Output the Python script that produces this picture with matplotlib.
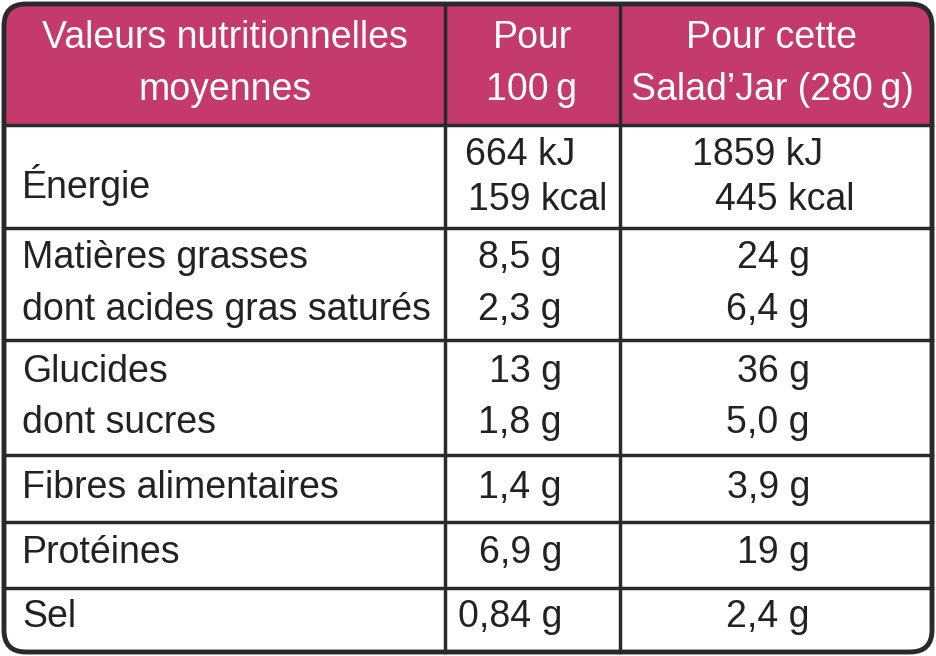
import matplotlib
matplotlib.use("Agg")
import matplotlib.pyplot as plt
from matplotlib.patches import FancyBboxPatch, Rectangle

header = [["Valeurs nutritionnelles", "moyennes"], ["Pour", "100\u2009g"], ["Pour cette", "Salad’Jar (280\u2009g)"]]
labels = [["Énergie"], ["Matières grasses", "dont acides gras saturés"], ["Glucides", "dont sucres"],
          ["Fibres alimentaires"], ["Protéines"], ["Sel"]]
per100 = [["664 kJ", "159 kcal"], ["8,5 g", "2,3 g"], ["13 g", "1,8 g"], ["1,4 g"], ["6,9 g"], ["0,84 g"]]
perjar = [["1859 kJ", "445 kcal"], ["24 g", "6,4 g"], ["36 g", "5,0 g"], ["3,9 g"], ["19 g"], ["2,4 g"]]

plt.rcParams['font.family'] = ['Liberation Sans', 'DejaVu Sans']
fig = plt.figure(figsize=(9.36, 6.56), dpi=100)
ax = fig.add_axes([0, 0, 1, 1])
ax.set_xlim(0, 936); ax.set_ylim(656, 0); ax.axis('off')

mag = '#c43a6c'; edge = '#2a2a2a'
ax.add_patch(FancyBboxPatch((4, 4), 928, 648, boxstyle="round,pad=0,rounding_size=22",
                            fc='white', ec='none', zorder=0))
hb = Rectangle((4, 4), 928, 121, fc=mag, ec='none', zorder=1)
ax.add_patch(hb)
clip = FancyBboxPatch((4, 4), 928, 648, boxstyle="round,pad=0,rounding_size=22", fc='none', ec='none')
ax.add_patch(clip); hb.set_clip_path(clip)
ax.add_patch(FancyBboxPatch((4, 4), 928, 648, boxstyle="round,pad=0,rounding_size=22",
                            fc='none', ec=edge, lw=3.5, zorder=5))

cols = [445, 620]
rows = [125, 228, 340, 455, 522, 588]
for x in cols:
    ax.plot([x, x], [4, 652], color=edge, lw=2.5, zorder=4)
for y in rows:
    ax.plot([4, 932], [y, y], color=edge, lw=2.5, zorder=4)

fs = 27
hc = [225, 532, 772]
for c, lines in zip(hc, header):
    for i, t in enumerate(lines):
        ax.text(c, 38 + 52 * i, t, color='white', fontsize=fs, ha='center', va='center', zorder=6)

ypos = [[155, 200], [258, 310], [372, 423], [488], [553], [617]]
k = '#222'
for lab, a, b, ys in zip(labels, per100, perjar, ypos):
    if lab == labels[0]:
        ax.text(22, 185, lab[0], fontsize=fs, ha='left', va='center', color=k)
        ax.text(465, ys[0], a[0], fontsize=fs, ha='left', va='center', color=k)
        ax.text(468, ys[1], a[1], fontsize=fs, ha='left', va='center', color=k)
        ax.text(692, ys[0], b[0], fontsize=fs, ha='left', va='center', color=k)
        ax.text(715, ys[1], b[1], fontsize=fs, ha='left', va='center', color=k)
        continue
    for i, y in enumerate(ys):
        ax.text(22, y, lab[i], fontsize=fs, ha='left', va='center', color=k)
        ax.text(562, y, a[i], fontsize=fs, ha='right', va='center', color=k)
        ax.text(810, y, b[i], fontsize=fs, ha='right', va='center', color=k)

fig.savefig('out.png', dpi=100)
